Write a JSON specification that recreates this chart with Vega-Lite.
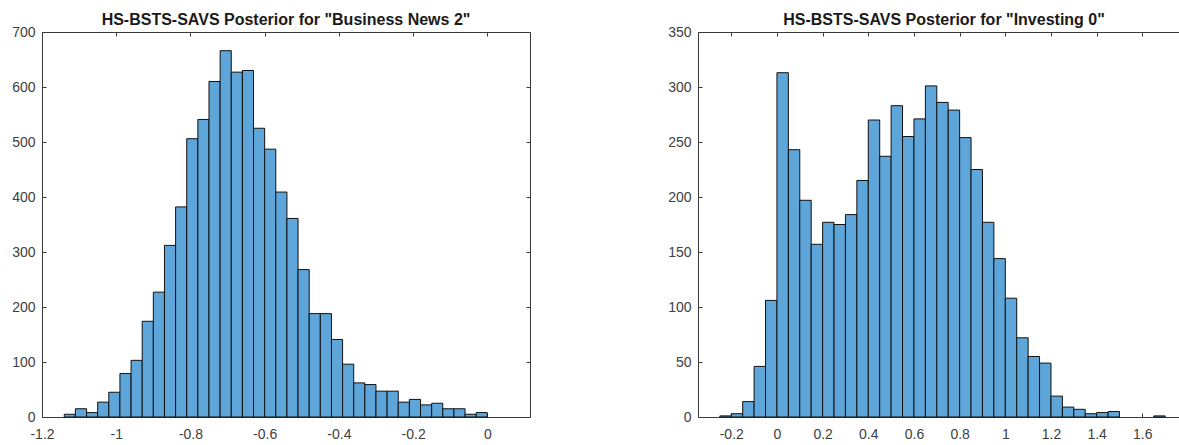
{
  "$schema": "https://vega.github.io/schema/vega-lite/v6.json",
  "background": "white",
  "padding": {"left": 11, "top": 12, "right": 0, "bottom": 4},
  "config": {
    "view": {"stroke": null},
    "font": "Liberation Sans",
    "axis": {
      "labelFont": "Liberation Sans",
      "labelFontSize": 14,
      "labelColor": "#404040",
      "labelFlush": false,
      "labelOverlap": false,
      "domainColor": "#3a3a3a",
      "tickColor": "#3a3a3a",
      "domainWidth": 1,
      "tickWidth": 1,
      "grid": false,
      "title": null
    },
    "title": {
      "font": "Liberation Sans",
      "fontSize": 16,
      "fontWeight": "bold",
      "color": "#1a1a1a",
      "anchor": "middle",
      "frame": "group",
      "offset": -3
    }
  },
  "datasets": {
    "left": [
      {"x0": -1.14, "x1": -1.11, "n": 5},
      {"x0": -1.11, "x1": -1.08, "n": 15},
      {"x0": -1.08, "x1": -1.05, "n": 8},
      {"x0": -1.05, "x1": -1.02, "n": 27},
      {"x0": -1.02, "x1": -0.99, "n": 45},
      {"x0": -0.99, "x1": -0.96, "n": 79},
      {"x0": -0.96, "x1": -0.93, "n": 103},
      {"x0": -0.93, "x1": -0.90, "n": 174},
      {"x0": -0.90, "x1": -0.87, "n": 227},
      {"x0": -0.87, "x1": -0.84, "n": 312},
      {"x0": -0.84, "x1": -0.81, "n": 382},
      {"x0": -0.81, "x1": -0.78, "n": 506},
      {"x0": -0.78, "x1": -0.75, "n": 541},
      {"x0": -0.75, "x1": -0.72, "n": 610},
      {"x0": -0.72, "x1": -0.69, "n": 666},
      {"x0": -0.69, "x1": -0.66, "n": 627},
      {"x0": -0.66, "x1": -0.63, "n": 630},
      {"x0": -0.63, "x1": -0.60, "n": 525},
      {"x0": -0.60, "x1": -0.57, "n": 487},
      {"x0": -0.57, "x1": -0.54, "n": 409},
      {"x0": -0.54, "x1": -0.51, "n": 361},
      {"x0": -0.51, "x1": -0.48, "n": 268},
      {"x0": -0.48, "x1": -0.45, "n": 188},
      {"x0": -0.45, "x1": -0.42, "n": 188},
      {"x0": -0.42, "x1": -0.39, "n": 141},
      {"x0": -0.39, "x1": -0.36, "n": 96},
      {"x0": -0.36, "x1": -0.33, "n": 62},
      {"x0": -0.33, "x1": -0.30, "n": 59},
      {"x0": -0.30, "x1": -0.27, "n": 47},
      {"x0": -0.27, "x1": -0.24, "n": 47},
      {"x0": -0.24, "x1": -0.21, "n": 27},
      {"x0": -0.21, "x1": -0.18, "n": 32},
      {"x0": -0.18, "x1": -0.15, "n": 22},
      {"x0": -0.15, "x1": -0.12, "n": 25},
      {"x0": -0.12, "x1": -0.09, "n": 15},
      {"x0": -0.09, "x1": -0.06, "n": 15},
      {"x0": -0.06, "x1": -0.03, "n": 5},
      {"x0": -0.03, "x1": 0.0, "n": 8}
    ],
    "right": [
      {"x0": -0.25, "x1": -0.20, "n": 1},
      {"x0": -0.20, "x1": -0.15, "n": 3},
      {"x0": -0.15, "x1": -0.10, "n": 14},
      {"x0": -0.10, "x1": -0.05, "n": 46},
      {"x0": -0.05, "x1": 0.0, "n": 106},
      {"x0": 0.0, "x1": 0.05, "n": 313},
      {"x0": 0.05, "x1": 0.10, "n": 243},
      {"x0": 0.10, "x1": 0.15, "n": 197},
      {"x0": 0.15, "x1": 0.20, "n": 157},
      {"x0": 0.20, "x1": 0.25, "n": 177},
      {"x0": 0.25, "x1": 0.30, "n": 175},
      {"x0": 0.30, "x1": 0.35, "n": 184},
      {"x0": 0.35, "x1": 0.40, "n": 215},
      {"x0": 0.40, "x1": 0.45, "n": 270},
      {"x0": 0.45, "x1": 0.50, "n": 237},
      {"x0": 0.50, "x1": 0.55, "n": 283},
      {"x0": 0.55, "x1": 0.60, "n": 255},
      {"x0": 0.60, "x1": 0.65, "n": 271},
      {"x0": 0.65, "x1": 0.70, "n": 301},
      {"x0": 0.70, "x1": 0.75, "n": 286},
      {"x0": 0.75, "x1": 0.80, "n": 279},
      {"x0": 0.80, "x1": 0.85, "n": 254},
      {"x0": 0.85, "x1": 0.90, "n": 225},
      {"x0": 0.90, "x1": 0.95, "n": 177},
      {"x0": 0.95, "x1": 1.00, "n": 144},
      {"x0": 1.00, "x1": 1.05, "n": 108},
      {"x0": 1.05, "x1": 1.10, "n": 72},
      {"x0": 1.10, "x1": 1.15, "n": 55},
      {"x0": 1.15, "x1": 1.20, "n": 49},
      {"x0": 1.20, "x1": 1.25, "n": 19},
      {"x0": 1.25, "x1": 1.30, "n": 9},
      {"x0": 1.30, "x1": 1.35, "n": 7},
      {"x0": 1.35, "x1": 1.40, "n": 3},
      {"x0": 1.40, "x1": 1.45, "n": 4},
      {"x0": 1.45, "x1": 1.50, "n": 5},
      {"x0": 1.65, "x1": 1.70, "n": 1}
    ]
  },
  "spacing": 136,
  "hconcat": [
    {
      "width": 488,
      "height": 385,
      "title": {"text": "HS-BSTS-SAVS Posterior for \"Business News 2\""},
      "data": {"name": "left"},
      "layer": [
        {
          "mark": {"type": "bar", "fill": "#5ea6d9", "stroke": "#111111", "strokeWidth": 1},
          "encoding": {
            "x": {"field": "x0", "type": "quantitative",
                  "scale": {"domain": [-1.2, 0.115], "nice": false, "zero": false},
                  "axis": {"orient": "bottom", "values": [-1.2, -1, -0.8, -0.6, -0.4, -0.2, 0], "labelExpr": "'' + datum.value", "ticks": false, "labelPadding": 10}},
            "x2": {"field": "x1"},
            "y": {"field": "n", "type": "quantitative",
                  "scale": {"domain": [0, 700], "nice": false},
                  "axis": {"orient": "left", "values": [0, 100, 200, 300, 400, 500, 600, 700], "ticks": false, "labelPadding": 7}},
            "y2": {"datum": 0}
          }
        },
        {
          "mark": {"type": "bar", "opacity": 0},
          "encoding": {
            "x": {"field": "x0", "type": "quantitative",
                  "axis": {"orient": "bottom", "offset": -4, "tickSize": 4, "domain": false, "labels": false, "values": [-1.2, -1, -0.8, -0.6, -0.4, -0.2, 0]}},
            "x2": {"field": "x1"},
            "y": {"field": "n", "type": "quantitative",
                  "axis": {"orient": "left", "offset": -4, "tickSize": 4, "domain": false, "labels": false, "values": [0, 100, 200, 300, 400, 500, 600, 700]}},
            "y2": {"datum": 0}
          }
        },
        {
          "mark": {"type": "bar", "opacity": 0},
          "encoding": {
            "x": {"field": "x0", "type": "quantitative",
                  "axis": {"orient": "top", "ticks": false, "labels": false}},
            "x2": {"field": "x1"},
            "y": {"field": "n", "type": "quantitative",
                  "axis": {"orient": "right", "ticks": false, "labels": false}},
            "y2": {"datum": 0}
          }
        },
        {
          "mark": {"type": "bar", "opacity": 0},
          "encoding": {
            "x": {"field": "x0", "type": "quantitative",
                  "axis": {"orient": "top", "offset": -4, "tickSize": 4, "domain": false, "labels": false, "values": [-1.2, -1, -0.8, -0.6, -0.4, -0.2, 0]}},
            "x2": {"field": "x1"},
            "y": {"field": "n", "type": "quantitative",
                  "axis": {"orient": "right", "offset": -4, "tickSize": 4, "domain": false, "labels": false, "values": [0, 100, 200, 300, 400, 500, 600, 700]}},
            "y2": {"datum": 0}
          }
        }
      ],
      "resolve": {"axis": {"x": "independent", "y": "independent"}}
    },
    {
      "width": 482,
      "height": 385,
      "title": {"text": "HS-BSTS-SAVS Posterior for \"Investing 0\"", "dx": 5},
      "data": {"name": "right"},
      "layer": [
        {
          "mark": {"type": "bar", "fill": "#5ea6d9", "stroke": "#111111", "strokeWidth": 1},
          "encoding": {
            "x": {"field": "x0", "type": "quantitative",
                  "scale": {"domain": [-0.3457, 1.765], "nice": false, "zero": false},
                  "axis": {"orient": "bottom", "values": [-0.2, 0, 0.2, 0.4, 0.6, 0.8, 1, 1.2, 1.4, 1.6], "labelExpr": "'' + datum.value", "ticks": false, "labelPadding": 10}},
            "x2": {"field": "x1"},
            "y": {"field": "n", "type": "quantitative",
                  "scale": {"domain": [0, 350], "nice": false},
                  "axis": {"orient": "left", "values": [0, 50, 100, 150, 200, 250, 300, 350], "ticks": false, "labelPadding": 7}},
            "y2": {"datum": 0}
          }
        },
        {
          "mark": {"type": "bar", "opacity": 0},
          "encoding": {
            "x": {"field": "x0", "type": "quantitative",
                  "axis": {"orient": "bottom", "offset": -4, "tickSize": 4, "domain": false, "labels": false, "values": [-0.2, 0, 0.2, 0.4, 0.6, 0.8, 1, 1.2, 1.4, 1.6]}},
            "x2": {"field": "x1"},
            "y": {"field": "n", "type": "quantitative",
                  "axis": {"orient": "left", "offset": -4, "tickSize": 4, "domain": false, "labels": false, "values": [0, 50, 100, 150, 200, 250, 300, 350]}},
            "y2": {"datum": 0}
          }
        },
        {
          "mark": {"type": "bar", "opacity": 0},
          "encoding": {
            "x": {"field": "x0", "type": "quantitative",
                  "axis": {"orient": "top", "ticks": false, "labels": false}},
            "x2": {"field": "x1"},
            "y": {"field": "n", "type": "quantitative", "axis": null},
            "y2": {"datum": 0}
          }
        },
        {
          "mark": {"type": "bar", "opacity": 0},
          "encoding": {
            "x": {"field": "x0", "type": "quantitative",
                  "axis": {"orient": "top", "offset": -4, "tickSize": 4, "domain": false, "labels": false, "values": [-0.2, 0, 0.2, 0.4, 0.6, 0.8, 1, 1.2, 1.4, 1.6]}},
            "x2": {"field": "x1"},
            "y": {"field": "n", "type": "quantitative", "axis": null},
            "y2": {"datum": 0}
          }
        }
      ],
      "resolve": {"axis": {"x": "independent", "y": "independent"}}
    }
  ]
}
